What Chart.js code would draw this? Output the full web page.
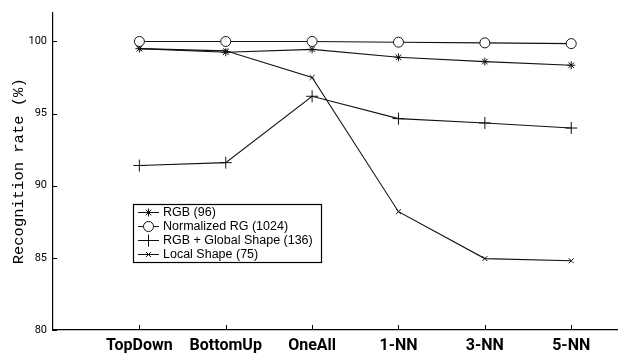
<!DOCTYPE html>
<html>
<head>
<meta charset="utf-8">
<script src="https://cdn.jsdelivr.net/npm/chart.js@4.4.0/dist/chart.umd.min.js"></script>
<style>
  html, body { margin: 0; padding: 0; background: #fff; }
  #wrap { width: 627px; height: 360px; }
</style>
</head>
<body>
<div id="wrap"><canvas id="c" width="627" height="360"></canvas></div>
<script>
const categories = ['TopDown', 'BottomUp', 'OneAll', '1-NN', '3-NN', '5-NN'];
const seriesNames = ['RGB (96)', 'Normalized RG (1024)', 'RGB + Global Shape (136)', 'Local Shape (75)'];
const rgbValues = [99.5, 99.25, 99.45, 98.9, 98.6, 98.35];
const normRGValues = [100, 100, 100, 99.95, 99.9, 99.85];
const rgbGlobalValues = [91.4, 91.6, 96.2, 94.65, 94.35, 94.0];
const localShapeValues = [99.5, 99.35, 97.5, 88.2, 84.95, 84.8];
const yTickValues = [80, 85, 90, 95, 100];
const yTitle = 'Recognition rate (%)';

const toPts = arr => arr.map((v, i) => ({ x: i + 1, y: v }));
const INK = '#111111';

const styles = [
  { pointStyle: 'star', radius: 4, bg: INK },
  { pointStyle: 'circle', radius: 5, bg: '#ffffff' },
  { pointStyle: 'cross', radius: 6, bg: INK },
  { pointStyle: 'crossRot', radius: 3.5, bg: INK }
];
const values = [rgbValues, normRGValues, rgbGlobalValues, localShapeValues];

const datasets = seriesNames.map((name, k) => ({
  label: name,
  data: toPts(values[k]),
  borderColor: INK,
  backgroundColor: styles[k].bg,
  borderWidth: 1.1,
  pointStyle: styles[k].pointStyle,
  pointRadius: styles[k].radius,
  pointBorderColor: INK,
  pointBackgroundColor: styles[k].bg,
  pointBorderWidth: 1,
  tension: 0,
  fill: false,
  order: [2, 1, 3, 4][k]
}));

const innerTicks = {
  id: 'innerTicks',
  afterDraw(chart) {
    const { ctx, chartArea, scales } = chart;
    ctx.save();
    ctx.strokeStyle = '#000';
    ctx.lineWidth = 1;
    ctx.beginPath();
    categories.forEach((c, i) => {
      const px = Math.round(scales.x.getPixelForValue(i + 1)) + 0.5;
      ctx.moveTo(px, chartArea.bottom);
      ctx.lineTo(px, chartArea.bottom - 5);
    });
    yTickValues.forEach(v => {
      const py = Math.round(scales.y.getPixelForValue(v)) + 0.5;
      ctx.moveTo(chartArea.left, py);
      ctx.lineTo(chartArea.left + 4, py);
    });
    ctx.stroke();
    ctx.restore();
  }
};

const boxLegend = {
  id: 'boxLegend',
  afterDraw(chart, args, opts) {
    const { ctx } = chart;
    const x0 = opts.x, y0 = opts.y, w = opts.w, h = opts.h;
    ctx.save();
    ctx.fillStyle = '#fff';
    ctx.fillRect(x0, y0, w, h);
    ctx.strokeStyle = '#000';
    ctx.lineWidth = 1.2;
    ctx.strokeRect(x0 + 0.5, y0 + 0.5, w, h);
    ctx.font = opts.font;
    ctx.textBaseline = 'middle';
    chart.data.datasets.forEach((ds, i) => {
      const cy = y0 + opts.rowTop + i * opts.rowH;
      const lx0 = x0 + 5, lx1 = x0 + 26, mx = (lx0 + lx1) / 2;
      ctx.strokeStyle = INK;
      ctx.lineWidth = 1;
      ctx.beginPath();
      ctx.moveTo(lx0, Math.round(cy) + 0.5);
      ctx.lineTo(lx1, Math.round(cy) + 0.5);
      ctx.stroke();
      ctx.fillStyle = ds.pointBackgroundColor;
      ctx.strokeStyle = INK;
      Chart.helpers.drawPoint(ctx, {
        pointStyle: ds.pointStyle,
        radius: ds.pointRadius,
        borderWidth: 1,
        rotation: 0
      }, mx, Math.round(cy) + 0.5);
      ctx.fillStyle = '#000';
      ctx.fillText(ds.label, x0 + 30, cy + 0.5);
    });
    ctx.restore();
  }
};

new Chart(document.getElementById('c'), {
  type: 'line',
  data: { datasets },
  plugins: [innerTicks, boxLegend],
  options: {
    responsive: false,
    animation: false,
    layout: { padding: { top: 8, right: 10, left: 0, bottom: 0 } },
    plugins: {
      legend: { display: false },
      tooltip: { enabled: false },
      boxLegend: {
        x: 133, y: 204, w: 188, h: 58, rowTop: 8, rowH: 14,
        font: '12.5px "Liberation Sans", Arial, sans-serif'
      }
    },
    scales: {
      x: {
        type: 'linear',
        min: 0,
        max: 6.53,
        border: { display: true, color: '#000', width: 1.2 },
        grid: { drawOnChartArea: false, drawTicks: false },
        ticks: {
          stepSize: 1,
          includeBounds: false,
          autoSkip: false,
          maxRotation: 0,
          padding: 6,
          color: '#000',
          font: { family: 'Roboto, "Liberation Sans", sans-serif', size: 16, weight: 'bold' },
          callback: v => (v >= 1 && v <= categories.length && Number.isInteger(v)) ? categories[v - 1] : ''
        },
        afterFit: s => { s.height = 30; }
      },
      y: {
        type: 'linear',
        min: 80,
        max: 102,
        border: { display: true, color: '#000', width: 1.2 },
        grid: { drawOnChartArea: false, drawTicks: false },
        ticks: {
          stepSize: 5,
          includeBounds: false,
          padding: 6,
          color: '#000',
          font: { family: 'Roboto, "Liberation Sans", sans-serif', size: 11 }
        },
        title: {
          display: true,
          text: yTitle,
          color: '#000',
          padding: { top: 10, bottom: 0 },
          font: { family: '"Liberation Mono", "DejaVu Sans Mono", monospace', size: 15.5 }
        },
        afterFit: s => { s.width = 53; }
      }
    }
  }
});
</script>
</body>
</html>
